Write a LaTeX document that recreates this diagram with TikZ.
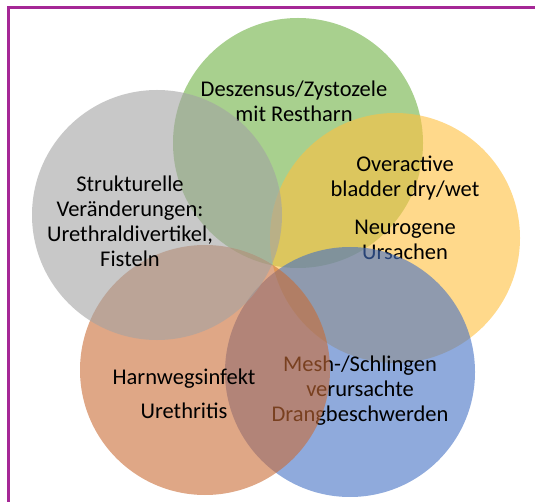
\documentclass[tikz,border=0pt]{standalone}
\usepackage{fontspec}
\setmainfont{Carlito}
\usepackage{tikz}

\definecolor{vgreen}{RGB}{110,177,67}
\definecolor{vyellow}{RGB}{255,192,62}
\definecolor{vblue}{RGB}{68,113,197}
\definecolor{vorange}{RGB}{202,108,54}
\definecolor{vgray}{RGB}{163,163,163}
\definecolor{frame}{RGB}{165,40,150}

\begin{document}
\begin{tikzpicture}[x=1pt,y=-1pt,
  venn/.style={circle,minimum size=250pt,inner sep=0pt,draw=none,fill opacity=0.6,text opacity=1},
  label/.style={align=center,text=black,font=\fontsize{22.5}{25}\selectfont}]

\useasboundingbox (0,0) rectangle (535,502);

\begin{scope}

\clip (0,0) rectangle (535,502);

\draw [frame,line width=3pt] (8.5,520) -- (8.5,7.5) -- (560,7.5);

\node [venn,fill=vgreen] (green) at (298,143) {};
\node [label] (greentext) at (294,101) {Deszensus/Zystozele\\mit Restharn};

\node [venn,fill=vyellow] (yellow) at (395,238) {};
\node [label] (overactive) at (405,178) {Overactive\\bladder dry/wet};
\node [label] (neurogen) at (405,240) {Neurogene\\Ursachen};

\node [venn,fill=vblue] (blue) at (350,372) {};
\node [label] (mesh) at (360,391) {Mesh-/Schlingen\\verursachte\\Drangbeschwerden};

\node [venn,fill=vorange] (orange) at (205,370) {};
\node [label] (harnweg) at (184,379) {Harnwegsinfekt};
\node [label] (urethritis) at (184,411) {Urethritis};

\node [venn,fill=vgray] (gray) at (157,215) {};
\node [label] (struktur) at (130,221) {Strukturelle\\Veränderungen:\\Urethraldivertikel,\\Fisteln};

\end{scope}

\end{tikzpicture}
\end{document}
